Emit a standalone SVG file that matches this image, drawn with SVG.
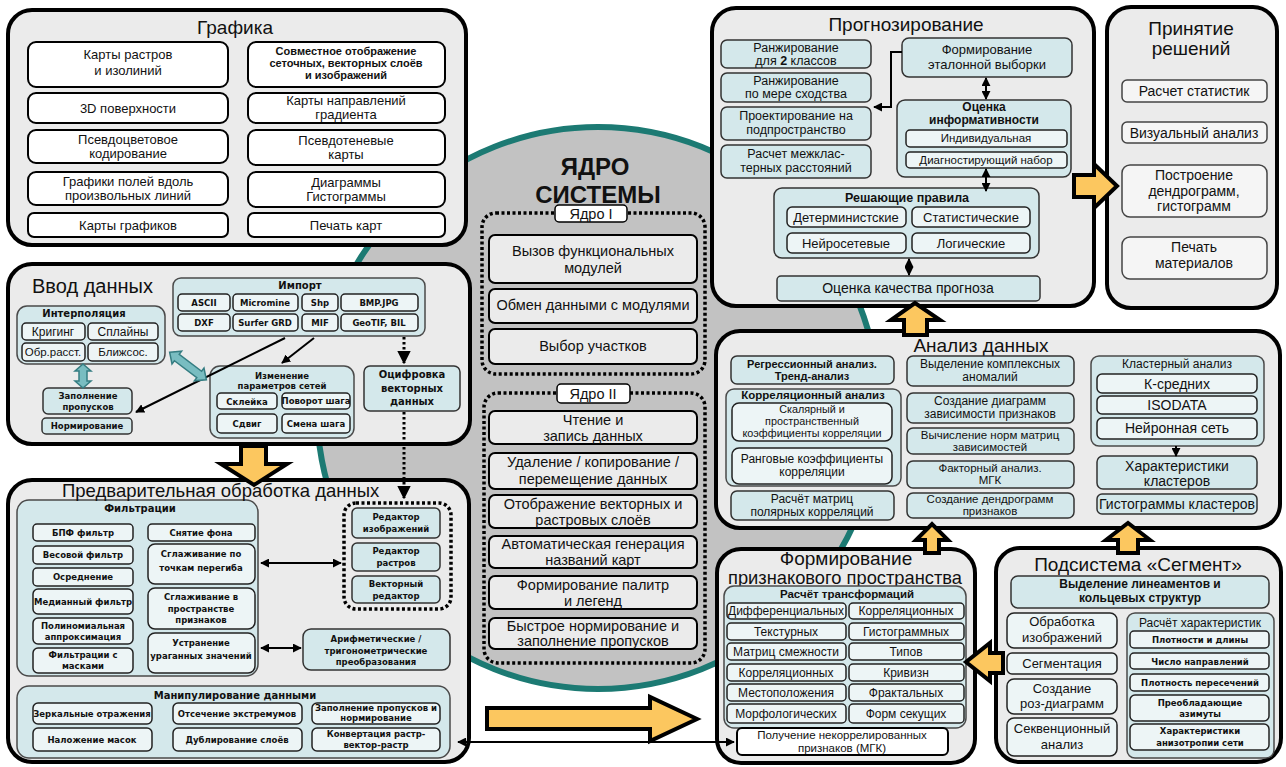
<svg xmlns="http://www.w3.org/2000/svg" width="1286" height="767" viewBox="0 0 1286 767">
<defs>
<style>
.main{fill:#ebebeb;stroke:#000;stroke-width:4}
.grp{fill:#d4e8eb;stroke:#4a4a4a;stroke-width:1.5}
.tc{fill:#d4e8eb;stroke:#333;stroke-width:1.5}
.lc{fill:#edf5f6;stroke:#222;stroke-width:1.5}
.wc{fill:#fff;stroke:#000;stroke-width:2}
.gc{fill:#ebebeb;stroke:#000;stroke-width:2}
.pc{fill:#f5f5f5;stroke:#444;stroke-width:1.5}
.dot{fill:none;stroke:#000;stroke-width:3.5;stroke-dasharray:3 2.5}
.lab{fill:#fff;stroke:#000;stroke-width:1.5}
.oa{fill:#fcc75f;stroke:#000;stroke-width:4;stroke-linejoin:miter}
.ta{fill:#79bdc1;stroke:#357d82;stroke-width:1.5}
.ln{fill:none;stroke:#000;stroke-width:2}
.dl{fill:none;stroke:#000;stroke-width:3;stroke-dasharray:2.5 2.5}
text{font-family:"Liberation Sans",Arial,sans-serif;text-anchor:middle;fill:#111}
.t19{font-size:19px}
.t15{font-size:14.5px}
.t14{font-size:14px}
.t13{font-size:13px}
.t12{font-size:12px}
.b{font-weight:bold}
.v{font-family:"DejaVu Sans",Verdana,sans-serif;font-weight:bold;font-size:8.5px}
.vb{font-family:"DejaVu Sans",Verdana,sans-serif;font-weight:bold;font-size:10px}
.ct{font-weight:bold;font-size:24px}
.st{text-anchor:start}
</style>
<marker id="ah" viewBox="0 0 10 10" refX="9" refY="5" markerWidth="4.5" markerHeight="4.5" orient="auto-start-reverse"><path d="M0,0L10,5L0,10z" fill="#000"/></marker>
</defs>
<rect width="1286" height="767" fill="#fff"/>

<g id="core">
<circle cx="598" cy="408" r="281" fill="#c2c2c2" stroke="#1c7a73" stroke-width="6"/>
<text class="ct" x="595" y="175">ЯДРО</text>
<text class="ct" x="598" y="203">СИСТЕМЫ</text>
</g>

<g id="core1">
<rect class="dot" x="482" y="213" width="223" height="161" rx="14"/>
<rect class="lab" x="555" y="205" width="72" height="17" rx="4"/>
<text class="t15" x="591" y="219">Ядро I</text>
<rect class="gc" x="489" y="235" width="208" height="48" rx="6"/>
<text class="t15"><tspan x="593" y="256">Вызов функциональных</tspan><tspan x="593" y="273">модулей</tspan></text>
<rect class="gc" x="489" y="289" width="208" height="34" rx="6"/>
<text class="t15" x="593" y="310">Обмен данными с модулями</text>
<rect class="gc" x="489" y="329" width="208" height="35" rx="6"/>
<text class="t15" x="593" y="351">Выбор участков</text>
</g>

<g id="core2">
<rect class="dot" x="484" y="393" width="221" height="270" rx="14"/>
<rect class="lab" x="557" y="384" width="73" height="19" rx="4"/>
<text class="t15" x="593" y="399">Ядро II</text>
<rect class="gc" x="489" y="411" width="208" height="33" rx="6"/>
<text class="t15"><tspan x="593" y="425">Чтение и</tspan><tspan x="593" y="441">запись данных</tspan></text>
<rect class="gc" x="489" y="453" width="208" height="36" rx="6"/>
<text class="t15"><tspan x="593" y="467">Удаление / копирование /</tspan><tspan x="593" y="484">перемещение данных</tspan></text>
<rect class="gc" x="489" y="495" width="208" height="33" rx="6"/>
<text class="t15"><tspan x="593" y="509">Отображение векторных и</tspan><tspan x="593" y="525">растровых слоёв</tspan></text>
<rect class="gc" x="489" y="536" width="208" height="32" rx="6"/>
<text class="t15"><tspan x="593" y="549">Автоматическая генерация</tspan><tspan x="593" y="565">названий карт</tspan></text>
<rect class="gc" x="489" y="576" width="208" height="33" rx="6"/>
<text class="t15"><tspan x="593" y="590">Формирование палитр</tspan><tspan x="593" y="606">и легенд</tspan></text>
<rect class="gc" x="489" y="618" width="208" height="31" rx="6"/>
<text class="t15"><tspan x="593" y="631">Быстрое нормирование и</tspan><tspan x="593" y="646">заполнение пропусков</tspan></text>
</g>

<g id="grafika">
<rect class="main" x="8" y="10" width="458" height="235" rx="24"/>
<text class="t19" x="235" y="34">Графика</text>
<rect class="wc" x="28" y="42" width="200" height="45" rx="8"/>
<text class="t13"><tspan x="128" y="59">Карты растров</tspan><tspan x="128" y="75">и изолиний</tspan></text>
<rect class="wc" x="28" y="93" width="200" height="30" rx="8"/>
<text class="t13" x="128" y="113">3D поверхности</text>
<rect class="wc" x="28" y="130" width="200" height="33" rx="8"/>
<text class="t13"><tspan x="128" y="144">Псевдоцветовое</tspan><tspan x="128" y="158">кодирование</tspan></text>
<rect class="wc" x="28" y="172" width="200" height="33" rx="8"/>
<text class="t13"><tspan x="128" y="186">Графики полей вдоль</tspan><tspan x="128" y="200">произвольных  линий</tspan></text>
<rect class="wc" x="28" y="213" width="200" height="24" rx="6"/>
<text class="t13" x="128" y="230">Карты графиков</text>
<rect class="wc" x="248" y="42" width="197" height="45" rx="8"/>
<text class="b" font-size="11"><tspan x="346" y="55">Совместное отображение</tspan><tspan x="346" y="67">сеточных, векторных слоёв</tspan><tspan x="346" y="79">и изображений</tspan></text>
<rect class="wc" x="248" y="93" width="197" height="30" rx="8"/>
<text class="t13"><tspan x="346" y="105">Карты направлений</tspan><tspan x="346" y="119">градиента</tspan></text>
<rect class="wc" x="248" y="130" width="197" height="35" rx="8"/>
<text class="t13"><tspan x="346" y="145">Псевдотеневые</tspan><tspan x="346" y="159">карты</tspan></text>
<rect class="wc" x="248" y="172" width="197" height="35" rx="8"/>
<text class="t13"><tspan x="346" y="187">Диаграммы</tspan><tspan x="346" y="201">Гистограммы</tspan></text>
<rect class="wc" x="248" y="213" width="197" height="24" rx="6"/>
<text class="t13" x="346" y="230">Печать карт</text>
</g>

<g id="vvod">
<rect class="main" x="8" y="264" width="462" height="180" rx="24"/>
<text class="st" font-size="20" x="32" y="293">Ввод данных</text>
<g id="import">
<rect class="grp" x="173" y="278" width="252" height="58" rx="8"/>
<text class="vb" x="300" y="289">Импорт</text>
<rect class="lc" x="178" y="294" width="52" height="17" rx="4"/><text class="v" x="204" y="306">ASCII</text>
<rect class="lc" x="233" y="294" width="65" height="17" rx="4"/><text class="v" x="265" y="306">Micromine</text>
<rect class="lc" x="302" y="294" width="36" height="17" rx="4"/><text class="v" x="320" y="306">Shp</text>
<rect class="lc" x="341" y="294" width="77" height="17" rx="4"/><text class="v" x="379" y="306">BMP.JPG</text>
<rect class="lc" x="178" y="314" width="52" height="17" rx="4"/><text class="v" x="204" y="326">DXF</text>
<rect class="lc" x="233" y="314" width="65" height="17" rx="4"/><text class="v" x="265" y="326">Surfer GRD</text>
<rect class="lc" x="302" y="314" width="36" height="17" rx="4"/><text class="v" x="320" y="326">MIF</text>
<rect class="lc" x="341" y="314" width="77" height="17" rx="4"/><text class="v" x="379" y="326">GeoTIF, BIL</text>
</g>
<g id="interp">
<rect class="grp" x="17" y="306" width="148" height="58" rx="10"/>
<text class="vb" x="84" y="317">Интерполяция</text>
<rect class="lc" x="22" y="323" width="63" height="17" rx="4"/><text class="t12" x="53" y="336">Кригинг</text>
<rect class="lc" x="88" y="323" width="70" height="17" rx="4"/><text class="t12" x="123" y="336">Сплайны</text>
<rect class="lc" x="22" y="343" width="63" height="18" rx="4"/><text font-size="11.5" x="53" y="356">Обр.расст.</text>
<rect class="lc" x="88" y="343" width="70" height="18" rx="4"/><text font-size="11.5" x="123" y="356">Ближсос.</text>
</g>
<g id="zapoln">
<rect class="tc" x="43" y="388" width="89" height="26" rx="5"/>
<text class="v"><tspan x="88" y="399">Заполнение</tspan><tspan x="88" y="410">пропусков</tspan></text>
</g>
<g id="norm">
<rect class="tc" x="42" y="418" width="90" height="16" rx="4"/>
<text class="v" x="87" y="429">Нормирование</text>
</g>
<g id="izmen">
<rect class="grp" x="210" y="366" width="144" height="72" rx="10"/>
<text class="v" font-size="8"><tspan x="282" y="379">Изменение</tspan><tspan x="282" y="389">параметров сетей</tspan></text>
<rect class="lc" x="217" y="393" width="60" height="16" rx="4"/><text class="v" x="247" y="405">Склейка</text>
<rect class="lc" x="282" y="393" width="68" height="16" rx="4"/><text class="v" font-size="7.5" x="316" y="404">Поворот шага</text>
<rect class="lc" x="217" y="414" width="60" height="19" rx="4"/><text class="v" x="247" y="427">Сдвиг</text>
<rect class="lc" x="282" y="414" width="68" height="19" rx="4"/><text class="v" font-size="7.5" x="316" y="427">Смена шага</text>
</g>
<g id="ocifr">
<rect class="tc" x="364" y="366" width="96" height="45" rx="6"/>
<text class="vb"><tspan x="412" y="378">Оцифровка</tspan><tspan x="412" y="392">векторных</tspan><tspan x="412" y="405">данных</tspan></text>
</g>
</g>

<g id="predv">
<rect class="main" x="8" y="480" width="461" height="282" rx="24"/>
<g id="filtr">
<rect class="grp" x="17" y="500" width="241" height="176" rx="12"/>
<text class="vb" x="140" y="512">Фильтрации</text>
<rect class="lc" x="33" y="524" width="100" height="17" rx="4"/><text class="v" x="83" y="536">БПФ фильтр</text>
<rect class="lc" x="33" y="546" width="100" height="18" rx="4"/><text class="v" x="83" y="558">Весовой фильтр</text>
<rect class="lc" x="33" y="568" width="100" height="18" rx="4"/><text class="v" x="83" y="580">Осреднение</text>
<rect class="lc" x="33" y="589" width="100" height="25" rx="5"/><text class="v" font-size="9" x="83" y="605">Медианный фильтр</text>
<rect class="lc" x="33" y="618" width="100" height="26" rx="5"/><text class="v"><tspan x="83" y="629">Полиномиальная</tspan><tspan x="83" y="640">аппроксимация</tspan></text>
<rect class="lc" x="33" y="648" width="100" height="25" rx="5"/><text class="v"><tspan x="83" y="658">Фильтрации с</tspan><tspan x="83" y="669">масками</tspan></text>
<rect class="lc" x="148" y="524" width="107" height="17" rx="4"/><text class="v" x="201" y="536">Снятие фона</text>
<rect class="lc" x="148" y="544" width="107" height="40" rx="7"/><text class="v"><tspan x="201" y="557">Сглаживание по</tspan><tspan x="201" y="571">точкам перегиба</tspan></text>
<rect class="lc" x="148" y="588" width="107" height="41" rx="7"/><text class="v"><tspan x="201" y="600">Сглаживание в</tspan><tspan x="201" y="612">пространстве</tspan><tspan x="201" y="623">признаков</tspan></text>
<rect class="lc" x="148" y="633" width="107" height="40" rx="7"/><text class="v"><tspan x="201" y="646">Устранение</tspan><tspan x="201" y="659">ураганных значений</tspan></text>
</g>
<g id="redakt">
<rect class="dot" x="344" y="503" width="107" height="106" rx="12"/>
<rect class="tc" x="352" y="508" width="88" height="30" rx="5"/><text class="v"><tspan x="396" y="520">Редактор</tspan><tspan x="396" y="532">изображений</tspan></text>
<rect class="tc" x="352" y="543" width="88" height="28" rx="5"/><text class="v"><tspan x="396" y="554">Редактор</tspan><tspan x="396" y="566">растров</tspan></text>
<rect class="tc" x="352" y="576" width="88" height="27" rx="5"/><text class="v"><tspan x="396" y="587">Векторный</tspan><tspan x="396" y="599">редактор</tspan></text>
</g>
<g id="arifm">
<rect class="tc" x="303" y="629" width="147" height="41" rx="8"/>
<text class="v"><tspan x="376" y="642">Арифметические /</tspan><tspan x="376" y="654">тригонометрические</tspan><tspan x="376" y="665">преобразования</tspan></text>
</g>
<g id="manip">
<rect class="grp" x="17" y="686" width="433" height="72" rx="12"/>
<text class="vb" font-size="10.5" x="235" y="699">Манипулирование данными</text>
<rect class="lc" x="33" y="703" width="119" height="21" rx="5"/><text class="v" x="92" y="717">Зеркальные отражения</text>
<rect class="lc" x="173" y="703" width="129" height="21" rx="5"/><text class="v" x="237" y="717">Отсечение экстремумов</text>
<rect class="lc" x="312" y="703" width="128" height="21" rx="5"/><text class="v" font-size="7.8"><tspan x="376" y="711">Заполнение пропусков и</tspan><tspan x="376" y="721">нормирование</tspan></text>
<rect class="lc" x="33" y="728" width="119" height="23" rx="5"/><text class="v" x="92" y="743">Наложение масок</text>
<rect class="lc" x="173" y="728" width="129" height="23" rx="5"/><text class="v" x="237" y="743">Дублирование слоёв</text>
<rect class="lc" x="312" y="728" width="128" height="23" rx="5"/><text class="v" font-size="7.8"><tspan x="376" y="737">Конвертация растр-</tspan><tspan x="376" y="748">вектор-растр</tspan></text>
</g>
<text class="st" font-size="18.5" x="62" y="497">Предварительная обработка данных</text>
</g>

<g id="prognoz">
<rect class="main" x="712" y="8" width="382" height="298" rx="24"/>
<text class="t19" x="906" y="31">Прогнозирование</text>
<rect class="tc" x="721" y="40" width="150" height="28" rx="6"/>
<text font-size="12.5"><tspan x="796" y="52">Ранжирование</tspan><tspan x="796" y="65">для  <tspan class="b">2</tspan>  классов</tspan></text>
<rect class="tc" x="721" y="73" width="150" height="29" rx="6"/>
<text font-size="12.5"><tspan x="796" y="85">Ранжирование</tspan><tspan x="796" y="98">по мере сходства</tspan></text>
<rect class="tc" x="721" y="107" width="150" height="33" rx="6"/>
<text font-size="12.5"><tspan x="796" y="120">Проектирование на</tspan><tspan x="796" y="134">подпространство</tspan></text>
<rect class="tc" x="721" y="145" width="150" height="33" rx="6"/>
<text font-size="12.5"><tspan x="796" y="158">Расчет межклас-</tspan><tspan x="796" y="172">терных расстояний</tspan></text>
<g id="etalon">
<rect class="tc" x="902" y="38" width="170" height="39" rx="7"/>
<text class="t13"><tspan x="987" y="54">Формирование</tspan><tspan x="987" y="69">эталонной выборки</tspan></text>
</g>
<g id="ocenka-inf">
<rect class="tc" x="897" y="100" width="174" height="77" rx="8"/>
<text class="b" font-size="12"><tspan x="984" y="111">Оценка</tspan><tspan x="984" y="124">информативности</tspan></text>
<rect class="lc" x="906" y="130" width="161" height="17" rx="4"/><text font-size="11.5" x="986" y="142">Индивидуальная</text>
<rect class="lc" x="906" y="152" width="161" height="16" rx="4"/><text font-size="11.5" x="986" y="164">Диагностирующий набор</text>
</g>
<g id="resh">
<rect class="tc" x="774" y="188" width="265" height="70" rx="8"/>
<text class="b" font-size="12.5" x="907" y="202">Решающие правила</text>
<rect class="lc" x="787" y="207" width="119" height="20" rx="5"/><text class="t13" x="846" y="222">Детерминистские</text>
<rect class="lc" x="912" y="207" width="118" height="20" rx="5"/><text class="t13" x="971" y="222">Статистические</text>
<rect class="lc" x="787" y="233" width="119" height="20" rx="5"/><text class="t13" x="846" y="248">Нейросетевые</text>
<rect class="lc" x="912" y="233" width="118" height="20" rx="5"/><text class="t13" x="971" y="248">Логические</text>
</g>
<g id="kach">
<rect class="tc" x="777" y="276" width="263" height="25" rx="4"/>
<text class="t14" x="908" y="293">Оценка качества прогноза</text>
</g>
</g>

<g id="prinyatie">
<rect class="main" x="1107" y="7" width="170" height="301" rx="24"/>
<text class="t19"><tspan x="1191" y="35">Принятие</tspan><tspan x="1191" y="55">решений</tspan></text>
<rect class="pc" x="1122" y="80" width="145" height="22" rx="5"/><text class="t14" x="1194" y="96">Расчет статистик</text>
<rect class="pc" x="1122" y="122" width="145" height="21" rx="5"/><text class="t14" x="1194" y="138">Визуальный анализ</text>
<rect class="pc" x="1122" y="165" width="145" height="52" rx="8"/>
<text class="t14"><tspan x="1194" y="180">Построение</tspan><tspan x="1194" y="196">дендрограмм,</tspan><tspan x="1194" y="211">гистограмм</tspan></text>
<rect class="pc" x="1122" y="237" width="145" height="42" rx="8"/>
<text class="t14"><tspan x="1194" y="252">Печать</tspan><tspan x="1194" y="268">материалов</tspan></text>
</g>

<g id="analiz">
<rect class="main" x="716" y="331" width="564" height="197" rx="24"/>
<text class="t19" x="981" y="352">Анализ данных</text>
<rect class="tc" x="731" y="356" width="163" height="28" rx="6"/>
<text class="b" font-size="11"><tspan x="812" y="368">Регрессионный анализ.</tspan><tspan x="812" y="380">Тренд-анализ</tspan></text>
<g id="korr">
<rect class="grp" x="726" y="389" width="175" height="97" rx="8"/>
<text class="b" font-size="11.5" x="813" y="399">Корреляционный анализ</text>
<rect class="lc" x="732" y="403" width="160" height="38" rx="7"/>
<text font-size="10.8"><tspan x="812" y="413">Скалярный и</tspan><tspan x="812" y="425">пространственный</tspan><tspan x="812" y="437">коэффициенты корреляции</tspan></text>
<rect class="lc" x="732" y="448" width="160" height="36" rx="7"/>
<text class="t12"><tspan x="812" y="463">Ранговые коэффициенты</tspan><tspan x="812" y="476">корреляции</tspan></text>
</g>
<rect class="tc" x="731" y="491" width="163" height="29" rx="6"/>
<text class="t12"><tspan x="812" y="503">Расчёт матриц</tspan><tspan x="812" y="516">полярных корреляций</tspan></text>
<rect class="tc" x="907" y="356" width="167" height="30" rx="6"/>
<text class="t12"><tspan x="990" y="368">Выделение комплексных</tspan><tspan x="990" y="381">аномалий</tspan></text>
<rect class="tc" x="907" y="393" width="167" height="30" rx="6"/>
<text class="t12"><tspan x="990" y="405">Создание диаграмм</tspan><tspan x="990" y="418">зависимости признаков</tspan></text>
<rect class="tc" x="907" y="428" width="167" height="26" rx="6"/>
<text font-size="11.5"><tspan x="990" y="439">Вычисление норм матриц</tspan><tspan x="990" y="451">зависимостей</tspan></text>
<rect class="tc" x="907" y="461" width="167" height="27" rx="6"/>
<text font-size="11.5"><tspan x="990" y="472">Факторный анализ.</tspan><tspan x="990" y="484">МГК</tspan></text>
<rect class="tc" x="907" y="493" width="167" height="25" rx="6"/>
<text font-size="11.5"><tspan x="990" y="503">Создание  дендрограмм</tspan><tspan x="990" y="515">признаков</tspan></text>
<g id="klast">
<rect class="grp" x="1091" y="356" width="173" height="90" rx="8"/>
<text font-size="12" x="1177" y="368">Кластерный анализ</text>
<rect class="lc" x="1097" y="374" width="160" height="19" rx="5"/><text class="t14" x="1177" y="389">К-средних</text>
<rect class="lc" x="1097" y="396" width="160" height="18" rx="5"/><text class="t14" x="1177" y="410">ISODATA</text>
<rect class="lc" x="1097" y="418" width="160" height="21" rx="5"/><text class="t14" x="1177" y="433">Нейронная сеть</text>
</g>
<rect class="tc" x="1097" y="456" width="160" height="33" rx="6"/>
<text class="t14"><tspan x="1177" y="471">Характеристики</tspan><tspan x="1177" y="486">кластеров</tspan></text>
<rect class="tc" x="1097" y="494" width="160" height="20" rx="5"/>
<text class="t14" x="1177" y="509">Гистограммы кластеров</text>
</g>

<g id="formir">
<rect class="main" x="717" y="549" width="258" height="214" rx="24"/>
<text class="t19"><tspan x="846" y="565">Формирование</tspan><tspan x="845" y="584" textLength="234" lengthAdjust="spacingAndGlyphs">признакового пространства</tspan></text>
<rect class="grp" x="724" y="586" width="242" height="142" rx="10"/>
<text class="b" font-size="11.5" x="847" y="598">Расчёт трансформаций</text>
<rect class="lc" x="727" y="603" width="119" height="16" rx="4"/><text class="t12" x="786" y="615">Дифференциальных</text>
<rect class="lc" x="849" y="603" width="115" height="16" rx="4"/><text class="t12" x="906" y="615">Корреляционных</text>
<rect class="lc" x="727" y="623" width="119" height="17" rx="4"/><text class="t12" x="786" y="636">Текстурных</text>
<rect class="lc" x="849" y="623" width="115" height="17" rx="4"/><text class="t12" x="906" y="636">Гистограммных</text>
<rect class="lc" x="727" y="643" width="119" height="17" rx="4"/><text class="t12" x="786" y="656">Матриц смежности</text>
<rect class="lc" x="849" y="643" width="115" height="17" rx="4"/><text class="t12" x="906" y="656">Типов</text>
<rect class="lc" x="727" y="664" width="119" height="17" rx="4"/><text class="t12" x="786" y="677">Корреляционных</text>
<rect class="lc" x="849" y="664" width="115" height="17" rx="4"/><text class="t12" x="906" y="677">Кривизн</text>
<rect class="lc" x="727" y="684" width="119" height="17" rx="4"/><text class="t12" x="786" y="697">Местоположения</text>
<rect class="lc" x="849" y="684" width="115" height="17" rx="4"/><text class="t12" x="906" y="697">Фрактальных</text>
<rect class="lc" x="727" y="704" width="119" height="19" rx="4"/><text class="t12" x="786" y="718">Морфологических</text>
<rect class="lc" x="849" y="704" width="115" height="19" rx="4"/><text class="t12" x="906" y="718">Форм секущих</text>
<rect class="wc" x="737" y="728" width="211" height="27" rx="5" stroke-width="1.5"/>
<text font-size="11.5"><tspan x="842" y="739">Получение  некоррелированных</tspan><tspan x="842" y="752">признаков (МГК)</tspan></text>
</g>

<g id="segment">
<rect class="main" x="996" y="548" width="285" height="214" rx="24"/>
<text class="t19" x="1138" y="571">Подсистема «Сегмент»</text>
<rect class="tc" x="1011" y="576" width="258" height="32" rx="7"/>
<text class="b" font-size="12"><tspan x="1140" y="588">Выделение линеаментов и</tspan><tspan x="1140" y="602">кольцевых структур</tspan></text>
<rect class="lc" x="1007" y="613" width="110" height="35" rx="7"/>
<text font-size="13"><tspan x="1062" y="626">Обработка</tspan><tspan x="1062" y="642">изображений</tspan></text>
<rect class="lc" x="1007" y="653" width="110" height="21" rx="5"/>
<text font-size="13" x="1062" y="668">Сегментация</text>
<rect class="lc" x="1007" y="679" width="110" height="35" rx="7"/>
<text font-size="13"><tspan x="1062" y="693">Создание</tspan><tspan x="1062" y="708">роз-диаграмм</tspan></text>
<rect class="lc" x="1007" y="718" width="110" height="38" rx="7"/>
<text font-size="13"><tspan x="1062" y="733">Секвенционный</tspan><tspan x="1062" y="749">анализ</tspan></text>
<rect class="grp" x="1127" y="613" width="147" height="145" rx="8"/>
<text font-size="12" x="1200" y="627">Расчёт характеристик</text>
<rect class="lc" x="1130" y="631" width="139" height="17" rx="4"/><text class="v" x="1200" y="643">Плотности и длины</text>
<rect class="lc" x="1130" y="653" width="139" height="16" rx="4"/><text class="v" x="1200" y="665">Число направлений</text>
<rect class="lc" x="1130" y="674" width="139" height="17" rx="4"/><text class="v" x="1200" y="686">Плотность пересечений</text>
<rect class="lc" x="1130" y="695" width="139" height="26" rx="5"/><text class="v"><tspan x="1200" y="706">Преобладающие</tspan><tspan x="1200" y="717">азимуты</tspan></text>
<rect class="lc" x="1130" y="724" width="139" height="26" rx="5"/><text class="v"><tspan x="1200" y="734">Характеристики</tspan><tspan x="1200" y="746">анизотропии сети</tspan></text>
</g>

<g id="connectors">
<line class="ln" x1="285" y1="338" x2="136" y2="412" marker-end="url(#ah)"/>
<line class="ln" x1="314" y1="338" x2="282" y2="363" marker-end="url(#ah)"/>
<line class="dl" x1="404" y1="337" x2="404" y2="363" marker-end="url(#ah)"/>
<line class="dl" x1="404" y1="412" x2="404" y2="498" marker-end="url(#ah)"/>
<polygon class="ta" points="83,364 91,371 87,371 87,381 91,381 83,388 75,381 79,381 79,371 75,371"/>
<polygon class="ta" transform="translate(188,366) rotate(37)" points="-23,0 -14,-8 -14,-4 14,-4 14,-8 23,0 14,8 14,4 -14,4 -14,8"/>
<line class="ln" x1="261" y1="563" x2="341" y2="563" marker-start="url(#ah)" marker-end="url(#ah)"/>
<line class="ln" x1="261" y1="648" x2="301" y2="648" marker-start="url(#ah)" marker-end="url(#ah)"/>
<line class="ln" x1="458" y1="742" x2="734" y2="742" marker-start="url(#ah)" marker-end="url(#ah)"/>
<path class="ln" d="M902,52 H891 V107 H874" marker-end="url(#ah)"/>
<line class="ln" x1="986" y1="78" x2="986" y2="99" marker-start="url(#ah)" marker-end="url(#ah)"/>
<line class="ln" x1="986" y1="169" x2="986" y2="191" marker-start="url(#ah)" marker-end="url(#ah)"/>
<line class="ln" x1="909" y1="259" x2="909" y2="275" marker-start="url(#ah)" marker-end="url(#ah)"/>
<line class="ln" x1="1176" y1="446" x2="1176" y2="456" marker-end="url(#ah)"/>
<polygon class="oa" points="241,446 266,446 266,464 287,464 254,485 221,464 241,464"/>
<polygon class="oa" points="487,708 650,708 650,697 697,719 650,741 650,729 487,729"/>
<polygon class="oa" points="1074,175 1094,175 1094,164 1117,186 1094,208 1094,197 1074,197"/>
<polygon class="oa" points="904,335 904,320 891,320 915,303 940,320 927,320 927,335"/>
<polygon class="oa" points="925,553 925,540 916,540 932,524 948,540 939,540 939,553"/>
<polygon class="oa" points="1118,553 1118,540 1106,540 1128,523 1150,540 1138,540 1138,553"/>
<polygon class="oa" points="1003,653 990,653 990,643 966,662 990,681 990,673 1003,673"/>
</g>
</svg>
